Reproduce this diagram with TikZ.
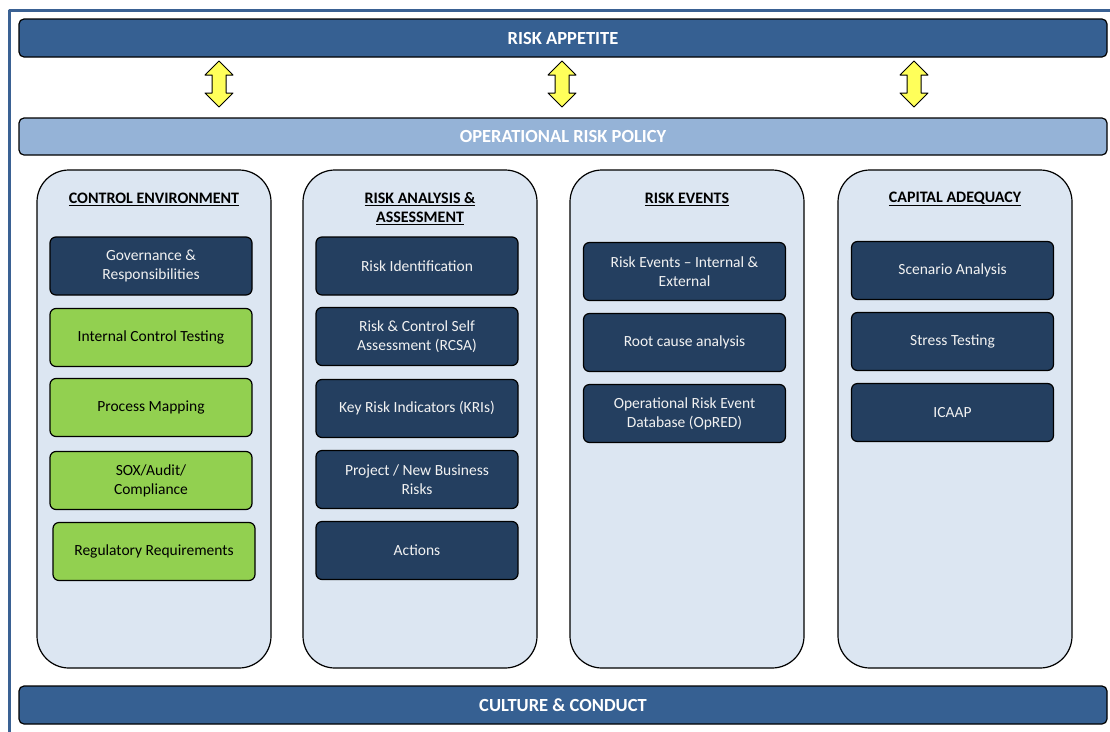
\documentclass[tikz,border=0pt]{standalone}
\usepackage{fontspec}
\setmainfont{Carlito}
\definecolor{appetite}{HTML}{366092}
\definecolor{policy}{HTML}{95B3D7}
\definecolor{pillar}{HTML}{DCE6F2}
\definecolor{navy}{HTML}{243F60}
\definecolor{lime}{HTML}{92D050}
\definecolor{frameblue}{HTML}{3A6193}
\definecolor{arrowyellow}{HTML}{FFFF5A}
\begin{document}
\begin{tikzpicture}[x=1pt,y=-1pt,line join=round,
	bar/.style={draw=black,line width=1.2pt,rounded corners=5pt,minimum width=1088pt,minimum height=38pt,
		text=white,font=\fontsize{18.5}{22}\bfseries},
	pillarbox/.style={draw=black,line width=1.2pt,fill=pillar,rounded corners=32pt,minimum width=234pt,minimum height=498pt},
	pillarhead/.style={align=center,font=\fontsize{16}{19}\selectfont\bfseries},
	navybox/.style={draw=black,line width=1.2pt,fill=navy,rounded corners=6pt,minimum width=202pt,minimum height=58pt,
		text=white!95!black,align=center,font=\fontsize{15.5}{19}\selectfont},
	limebox/.style={navybox,fill=lime,text=black}]
	\useasboundingbox (0,0) rectangle (1110,731);
	\draw[frameblue,line width=3.2pt] (1112,10.5) -- (9.5,10.5) -- (9.5,733);
	
	\node[bar,fill=appetite] (appetite) at (563,38) {RISK APPETITE};
	\node[bar,fill=policy,minimum height=37pt] (policy) at (563,136.5) {OPERATIONAL RISK POLICY};
	\node[bar,fill=appetite] (culture) at (563,705) {CULTURE \& CONDUCT};
	
	\foreach \ax in {219,562,914}
	\draw[fill=arrowyellow,line width=1pt,shift={(\ax,84)}]
	(0,-23)--(14,-9)--(7,-9)--(7,9)--(14,9)--(0,23)--(-14,9)--(-7,9)--(-7,-9)--(-14,-9)--cycle;
	
	\node[pillarbox] (control) at (154,419) {};
	\node[pillarbox] (analysis) at (420,419) {};
	\node[pillarbox] (events) at (687,419) {};
	\node[pillarbox] (capital) at (955,419) {};
	
	\node[pillarhead] (controlhead) at (154,199) {\underline{CONTROL ENVIRONMENT}};
	\node[pillarhead] (analysishead) at (420,208.5) {\underline{RISK ANALYSIS \&}\\\underline{ASSESSMENT}};
	\node[pillarhead] (eventshead) at (687,199) {\underline{RISK EVENTS}};
	\node[pillarhead] (capitalhead) at (955,199) {\underline{CAPITAL ADEQUACY}};
	
	\node[navybox] (governance) at (151,266) {Governance \&\\Responsibilities};
	\node[limebox] (testing) at (151,337.5) {Internal Control Testing};
	\node[limebox] (mapping) at (151,407.5) {Process Mapping};
	\node[limebox] (sox) at (151,480.5) {SOX/Audit/\\Compliance};
	\node[limebox] (regulatory) at (154,551.5) {Regulatory Requirements};
	
	\node[navybox] (identification) at (417,266) {Risk Identification};
	\node[navybox] (rcsa) at (417,336.5) {Risk \& Control Self\\Assessment (RCSA)};
	\node[navybox] (kri) at (417,408.5) {Key Risk Indicators (KRIs)};
	\node[navybox] (project) at (417,479.5) {Project / New Business\\Risks};
	\node[navybox] (actions) at (417,550.5) {Actions};
	
	\node[navybox] (riskevents) at (684.5,271.5) {Risk Events -- Internal \&\\External};
	\node[navybox] (rootcause) at (684.5,342.5) {Root cause analysis};
	\node[navybox] (opred) at (684.5,413.5) {Operational Risk Event\\Database (OpRED)};
	
	\node[navybox] (scenario) at (952.5,270.5) {Scenario Analysis};
	\node[navybox] (stress) at (952.5,341.5) {Stress Testing};
	\node[navybox] (icaap) at (952.5,412.5) {ICAAP};
\end{tikzpicture}
\end{document}
